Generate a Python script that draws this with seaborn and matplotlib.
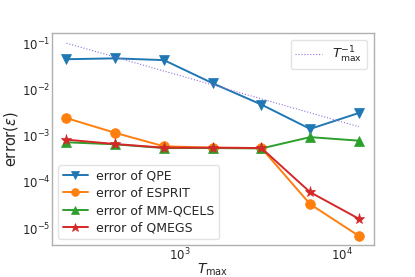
import numpy as np
import pandas as pd
import matplotlib
matplotlib.use("Agg")
import matplotlib.pyplot as plt
import seaborn as sns

T = [200, 400, 800, 1600, 3200, 6400, 12800]
qpe = [0.045, 0.047, 0.043, 0.0136, 0.0047, 0.0014, 0.0031]
esprit = [0.0024, 0.00115, 0.00059, 0.00055, 0.00054, 3.3e-5, 6.8e-6]
mmqcels = [0.00072, 0.00065, 0.00054, 0.00054, 0.00053, 0.00093, 0.00078]
qmegs = [0.00082, 0.00066, 0.00055, 0.00055, 0.00054, 6.0e-5, 1.6e-5]
trend = [20.0 / t for t in T]

series = [
    ("error of QPE", qpe, "v", "C0"),
    ("error of ESPRIT", esprit, "o", "C1"),
    ("error of MM-QCELS", mmqcels, "^", "C2"),
    ("error of QMEGS", qmegs, "*", "C3"),
]

sns.set_style("white")
plt.rcParams["font.family"] = ["DejaVu Sans"]
plt.rcParams["mathtext.fontset"] = "dejavusans"

fig, ax = plt.subplots(figsize=(4.15, 2.77), dpi=100)
fig.subplots_adjust(left=0.125, right=0.9, top=0.88, bottom=0.115)

handles = []
for name, vals, mk, col in series:
    df = pd.DataFrame({"T": T, "v": vals})
    sns.lineplot(data=df, x="T", y="v", marker=mk, color=col, ax=ax,
                 markersize=7 if mk != "*" else 8, markeredgewidth=0.5,
                 markeredgecolor=col,
                 linewidth=1.4, label=name, legend=False)
    handles.append(ax.lines[-1])

dft = pd.DataFrame({"T": T, "v": trend})
sns.lineplot(data=dft, x="T", y="v", color="mediumpurple", linestyle=":",
             linewidth=0.8, ax=ax, legend=False)
trend_line = ax.lines[-1]

ax.set_xscale("log")
ax.set_yscale("log")
ax.set_ylim(4.3e-6, 0.164)
ax.set_xlabel(r"$T_{\max}$", fontsize=10, labelpad=-1)
ax.set_ylabel(r"error($\epsilon$)", fontsize=10.5, labelpad=1)
ax.tick_params(axis="both", which="major", labelsize=8.5, length=0, pad=1)
ax.tick_params(axis="both", which="minor", length=0)
for s in ax.spines.values():
    s.set_color("#b0b0b0")
    s.set_linewidth(1.0)

leg1 = ax.legend(handles=handles, labels=[s[0] for s in series], loc="lower left",
                 fontsize=9, frameon=True, handlelength=2.0, borderpad=0.35,
                 labelspacing=0.35, handletextpad=0.7, markerscale=0.8)
leg1.get_frame().set_edgecolor("#dddddd")
ax.add_artist(leg1)
leg2 = ax.legend(handles=[trend_line], labels=[r"$T_{\max}^{-1}$"], loc="upper right",
                 fontsize=9.5, frameon=True, borderpad=0.35)
leg2.get_frame().set_edgecolor("#dddddd")

fig.savefig("out.png", dpi=100)
